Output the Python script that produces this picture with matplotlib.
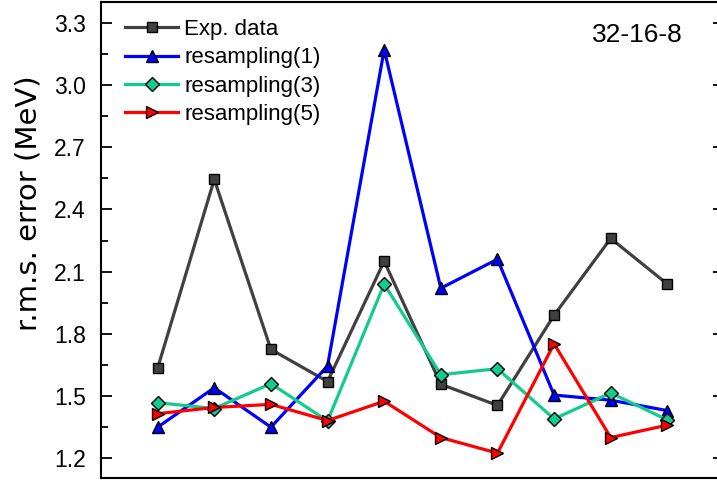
import matplotlib
matplotlib.use("Agg")
import matplotlib.pyplot as plt
from matplotlib.ticker import MultipleLocator

plt.rcParams['font.family'] = ['Liberation Sans', 'DejaVu Sans']

x = [1, 2, 3, 4, 5, 6, 7, 8, 9, 10]
exp_data = [1.635, 2.545, 1.725, 1.57, 2.15, 1.557, 1.455, 1.89, 2.26, 2.04]
res1 = [1.35, 1.54, 1.35, 1.645, 3.17, 2.02, 2.16, 1.505, 1.48, 1.43]
res3 = [1.468, 1.44, 1.56, 1.38, 2.04, 1.603, 1.632, 1.39, 1.515, 1.385]
res5 = [1.415, 1.445, 1.46, 1.382, 1.475, 1.30, 1.225, 1.752, 1.30, 1.36]
ytick_vals = [1.2, 1.5, 1.8, 2.1, 2.4, 2.7, 3.0, 3.3]
ytick_labels = ['1.2', '1.5', '1.8', '2.1', '2.4', '2.7', '3.0', '3.3']

series = [
    (exp_data, 'Exp. data', '#404040', 's', 7),
    (res1, 'resampling(1)', '#0000ff', '^', 8.5),
    (res3, 'resampling(3)', '#12cc8c', 'D', 7),
    (res5, 'resampling(5)', '#ff0000', '>', 8.5),
]

fig = plt.figure(figsize=(7.17, 4.8), dpi=100)
ax = fig.add_axes([101/717, 2/480, 623/717, 476/480])

for vals, lab, col, mk, ms in series:
    ax.plot(x, vals, color=col, lw=2.3, marker=mk, ms=ms,
            markerfacecolor=col, markeredgecolor='black', markeredgewidth=1.0,
            label=lab)

ax.set_xlim(0, 11)
ax.set_ylim(1.105, 3.4)
ax.yaxis.set_minor_locator(MultipleLocator(0.15))
ax.set_yticks(ytick_vals)
ax.set_yticklabels(ytick_labels)
ax.set_xticks([])
ax.tick_params(axis='y', which='major', direction='in', length=8, width=1.3,
               labelsize=16.5, right=True, pad=11)
ax.tick_params(axis='y', which='minor', direction='in', length=5, width=1.3,
               right=False)
for sp in ax.spines.values():
    sp.set_linewidth(1.5)

fig.text(28.5/717, 1 - 203.5/480, 'r.m.s. error (MeV)', rotation=90,
         ha='center', va='center', fontsize=21, family=['DejaVu Sans'])

ax.text(0.861, 0.93, '32-16-8', transform=ax.transAxes, fontsize=19,
        ha='center', va='center')

leg = ax.legend(loc='upper left', frameon=False, fontsize=16,
                handlelength=2.4, handletextpad=0.27, labelspacing=0.33,
                borderaxespad=0.0, borderpad=0.0,
                bbox_to_anchor=(24/623, 0.964))

fig.savefig('out.png', dpi=100)
